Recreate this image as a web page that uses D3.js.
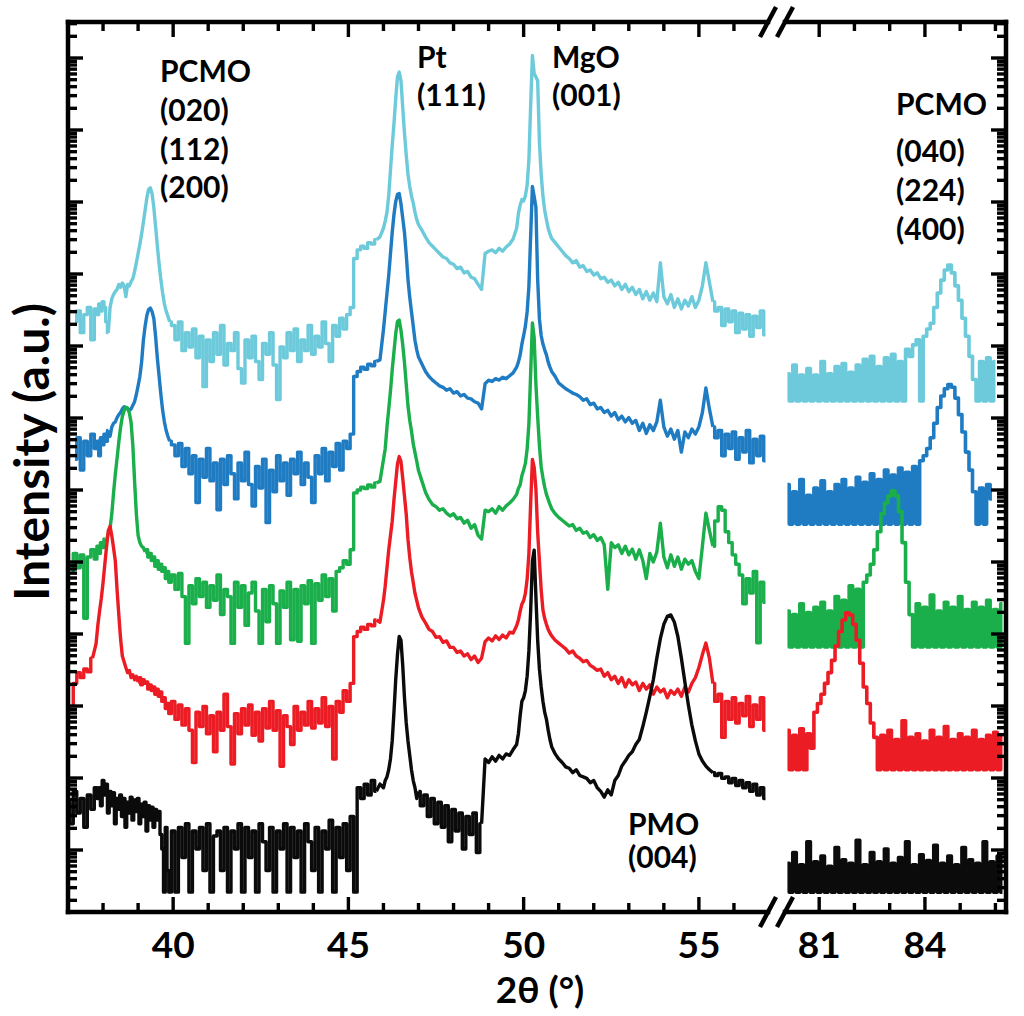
<!DOCTYPE html>
<html><head><meta charset="utf-8">
<script src="https://cdn.jsdelivr.net/npm/d3@7"></script>
<style>
body{margin:0;background:#fff}
svg{display:block}
text{font-family:Lato,'Open Sans',sans-serif;font-weight:700;fill:#000}
</style></head>
<body><svg id="chart" width="1024" height="1016"></svg>
<script>
// ---------- DATA ----------
// 2θ sampling of the left (37–57°) and right (80–86.3°) panels
const thetaLeft = [37.0,37.1,37.2,37.3,37.4,37.5,37.6,37.7,37.8,
37.85,37.9,37.95,38.0,38.05,38.1,38.15,38.2,38.25,38.3,38.35,38.4,38.45,38.5,38.55,38.6,38.65,38.7,38.75,38.8,38.85,38.9,38.95,39.0,39.05,39.1,39.15,39.2,39.25,39.3,39.35,39.4,39.45,39.5,39.55,39.6,39.65,39.7,39.75,39.8,39.85,39.9,
40.0,40.1,40.2,40.3,40.4,40.5,40.6,40.7,40.8,40.9,41.0,41.1,41.2,41.3,41.4,41.5,41.6,41.7,41.8,41.9,42.0,42.1,42.2,42.3,42.4,42.5,42.6,42.7,42.8,42.9,43.0,43.1,43.2,43.3,43.4,43.5,43.6,43.7,43.8,43.9,44.0,44.1,44.2,44.3,44.4,44.5,44.6,44.7,44.8,44.9,45.0,45.1,45.2,45.3,45.4,45.5,45.6,45.7,45.8,45.9,
46.0,46.05,46.1,46.15,46.2,46.25,46.3,46.35,46.4,46.45,46.5,46.55,46.6,46.65,46.7,46.75,46.8,46.85,46.9,46.95,47.0,
47.1,47.2,47.3,47.4,47.5,47.6,47.7,47.8,47.9,48.0,48.1,48.2,48.3,48.4,48.5,48.6,48.7,48.8,48.9,49.0,49.1,49.2,49.3,49.4,49.5,49.6,49.7,49.8,
49.85,49.9,49.95,50.0,50.05,50.1,50.15,50.2,50.25,50.3,50.35,50.4,50.45,50.5,50.55,50.6,50.65,50.7,50.75,50.8,
50.9,51.0,51.1,51.2,51.3,51.4,51.5,51.6,51.7,51.8,51.9,52.0,52.1,52.2,52.3,52.4,52.5,52.6,52.7,52.8,52.9,53.0,53.1,53.2,53.3,53.4,53.5,53.6,53.7,53.8,53.9,54.0,54.1,54.2,54.3,54.4,54.5,54.6,54.7,54.8,54.9,55.0,55.1,55.2,55.3,55.4,55.5,55.6,55.7,55.8,55.9,56.0,56.1,56.2,56.3,56.4,56.5,56.6,56.7,56.8,56.9];

const thetaRight = [80.1,80.2,80.3,80.4,80.5,80.6,80.7,80.8,80.9,81.0,81.1,81.2,81.3,81.4,81.5,81.6,81.7,81.8,81.9,82.0,82.1,82.2,82.3,82.4,82.5,82.6,82.7,82.8,82.9,83.0,83.1,83.2,83.3,83.4,83.5,83.6,83.7,83.8,83.9,84.0,84.1,84.2,84.3,84.4,84.5,84.6,84.7,84.8,84.9,85.0,85.1,85.2,85.3,85.4,85.5,85.6,85.7,85.8,85.9,86.0,86.1,86.2];

// log10(counts) of each pattern
const logBlackLeft = [1.25,0.95,1.40,1.10,1.30,0.90,1.35,1.15,1.45,
1.30,1.45,1.20,1.55,1.35,1.50,1.10,1.40,1.20,1.38,0.95,1.30,1.15,1.35,1.05,1.30,0.90,1.25,1.10,1.32,1.00,1.28,1.12,1.30,0.95,1.22,1.05,1.25,0.85,1.20,1.00,1.18,0.90,1.15,1.00,1.12,0.80,0.60,0.00,0.90,0.30,0.00,
0.85,0.00,0.90,0.48,0.95,0.00,0.85,0.60,0.90,0.30,0.95,0.00,0.78,0.85,0.30,0.90,0.00,0.85,0.60,0.95,0.00,0.90,0.48,0.85,0.00,0.95,0.70,0.30,0.90,0.00,0.85,0.60,0.95,0.00,0.90,0.48,0.85,0.00,0.95,0.70,0.30,0.90,0.00,0.85,0.60,1.00,0.00,0.90,0.48,0.95,0.30,1.05,0.00,1.45,1.30,1.50,1.35,1.55,1.40,1.50,
1.45,1.55,1.60,1.70,1.85,2.10,2.50,2.95,3.30,3.55,3.50,3.15,2.70,2.35,2.10,1.90,1.70,1.55,1.45,1.30,1.40,
1.20,1.35,1.05,1.30,0.95,1.25,0.90,1.20,0.70,1.15,0.85,1.10,0.60,1.05,0.80,1.10,0.55,0.95,1.85,1.80,1.88,1.82,1.90,1.85,1.92,1.90,1.98,2.05,
2.20,2.45,2.65,2.70,2.80,3.00,3.35,3.90,4.60,4.75,4.10,3.50,3.10,2.85,2.65,2.50,2.40,2.25,2.12,2.02,
1.92,1.85,1.80,1.74,1.72,1.66,1.70,1.62,1.60,1.58,1.52,1.55,1.45,1.40,1.32,1.42,1.35,1.55,1.62,1.75,1.82,1.90,1.95,2.05,2.12,2.30,2.50,2.72,2.95,3.25,3.52,3.72,3.83,3.85,3.75,3.55,3.25,2.92,2.60,2.32,2.10,1.92,1.82,1.75,1.70,1.66,1.62,1.65,1.58,1.60,1.52,1.58,1.48,1.55,1.45,1.52,1.40,1.50,1.35,1.45,1.30];

const logRedLeft = [null,0.90,1.20,1.35,1.28,1.40,1.36,1.55,1.75,
2.00,2.20,2.38,2.60,2.85,3.10,3.32,3.38,3.25,3.08,2.90,2.50,2.15,1.82,1.58,1.50,1.42,1.35,1.38,1.28,1.32,1.25,1.30,1.22,1.28,1.18,1.25,1.20,1.22,1.12,1.18,1.10,1.15,1.05,1.12,1.02,1.08,0.95,1.00,0.85,0.92,0.78,
0.95,0.70,0.90,0.62,0.85,0.55,0.10,0.80,0.60,0.88,0.50,0.75,0.25,0.80,0.55,1.05,0.60,0.08,0.78,0.50,0.85,0.62,0.90,0.48,0.80,0.40,0.85,0.58,0.95,0.55,0.82,0.05,0.75,0.60,0.35,0.88,0.55,0.80,0.62,0.95,0.58,0.85,0.65,1.00,0.60,0.88,0.15,0.95,0.80,1.10,0.95,1.20,1.85,1.92,1.98,1.95,2.02,2.00,2.08,2.05,
2.35,2.55,2.80,3.05,3.25,3.45,3.75,4.00,4.25,4.35,4.28,4.05,3.80,3.55,3.20,2.95,2.75,2.60,2.45,2.35,2.25,
2.12,2.04,1.95,1.92,1.84,1.85,1.77,1.79,1.70,1.70,1.63,1.65,1.58,1.61,1.53,1.58,1.49,1.55,1.78,1.83,1.79,1.86,1.81,1.87,1.83,1.91,1.90,2.00,
2.08,2.20,2.30,2.35,2.45,2.65,3.00,3.70,4.31,4.20,3.90,3.30,2.90,2.50,2.22,2.10,2.02,1.95,1.90,1.86,
1.80,1.76,1.72,1.68,1.62,1.65,1.58,1.55,1.50,1.52,1.45,1.42,1.38,1.40,1.30,1.35,1.25,1.30,1.20,1.28,1.15,1.25,1.18,1.22,1.10,1.20,1.12,1.18,1.05,1.15,1.08,1.12,1.00,1.10,1.05,1.12,1.02,1.15,1.08,1.20,1.28,1.42,1.60,1.76,1.55,1.20,0.95,1.05,0.45,0.95,0.70,1.00,0.65,0.92,0.75,1.02,0.60,0.90,0.70,1.00,0.55];

const logGreenLeft = [null,1.05,1.30,1.10,1.28,0.40,1.25,1.35,1.22,
1.40,1.30,1.45,1.38,1.50,1.48,1.58,1.65,1.85,2.14,2.40,2.62,2.85,3.05,3.20,3.28,3.33,3.32,3.25,3.12,2.80,2.30,1.85,1.55,1.45,1.40,1.38,1.32,1.35,1.25,1.30,1.20,1.25,1.12,1.20,1.08,1.15,1.05,1.10,0.95,1.05,0.90,
1.00,0.80,1.02,0.70,0.05,0.85,0.60,0.95,0.70,0.90,0.55,0.85,0.65,1.00,0.45,0.80,0.70,0.05,0.90,0.55,0.85,0.30,0.75,0.90,0.50,0.05,0.80,0.35,0.85,0.60,0.05,0.78,0.55,0.90,0.10,0.80,0.08,0.85,0.60,0.92,0.05,0.88,0.65,1.00,0.70,0.95,0.50,1.05,1.10,1.20,1.15,1.35,2.14,2.18,2.22,2.20,2.25,2.22,2.28,2.30,
2.60,2.75,3.05,3.30,3.55,3.85,4.10,4.35,4.52,4.54,4.40,4.20,3.95,3.65,3.35,3.15,3.00,2.82,2.70,2.58,2.45,
2.30,2.15,2.05,1.98,1.95,1.90,1.92,1.86,1.82,1.85,1.78,1.80,1.72,1.76,1.65,1.70,1.55,1.50,1.90,1.88,1.92,1.86,1.95,1.90,1.96,2.00,2.05,2.12,
2.20,2.25,2.38,2.46,2.55,2.75,3.10,3.80,4.50,4.30,3.65,3.20,2.80,2.50,2.35,2.22,2.12,2.05,1.98,1.92,
1.85,1.80,1.76,1.72,1.68,1.70,1.62,1.65,1.58,1.60,1.52,1.56,1.48,1.52,1.42,0.80,1.45,1.38,1.42,1.30,1.40,1.28,1.36,1.22,1.35,1.20,0.95,1.30,1.18,1.32,1.72,1.25,1.10,1.28,1.12,1.25,1.08,1.22,1.15,1.20,1.05,0.95,1.40,1.86,1.62,1.40,1.75,1.95,1.90,1.60,1.45,1.28,1.15,1.00,0.60,0.95,0.75,1.05,0.06,0.90,0.62];

const logBlueLeft = [null,null,0.90,1.20,0.75,1.15,0.95,1.25,1.05,
1.15,0.95,1.20,1.10,1.25,1.15,1.30,1.22,1.35,1.40,1.42,1.48,1.52,1.55,1.60,1.63,1.62,1.60,1.58,1.60,1.65,1.70,1.80,1.92,2.05,2.25,2.55,2.75,2.90,2.98,3.00,2.95,2.85,2.60,2.30,2.05,1.80,1.58,1.42,1.30,1.22,1.15,
1.10,0.95,1.12,0.80,1.05,0.70,0.95,0.30,0.90,0.65,1.05,0.60,0.85,0.20,0.90,0.55,0.95,0.70,0.35,0.85,0.60,1.00,0.55,0.25,0.80,0.50,0.90,0.02,0.75,0.45,0.95,0.60,0.85,0.40,0.90,0.70,1.00,0.55,0.85,0.65,0.30,0.95,0.70,1.05,0.60,1.00,0.80,1.12,0.75,1.15,1.05,1.25,2.05,2.12,2.18,2.15,2.22,2.20,2.26,2.28,
2.70,2.95,3.20,3.45,3.75,4.05,4.30,4.48,4.58,4.59,4.45,4.25,4.05,3.75,3.40,3.15,2.95,2.75,2.55,2.42,2.32,
2.22,2.12,2.05,2.00,1.96,1.92,1.90,1.86,1.88,1.82,1.84,1.78,1.80,1.75,1.74,1.70,1.68,1.60,1.95,2.00,1.98,2.02,2.00,2.04,2.02,2.06,2.10,2.18,
2.25,2.35,2.50,2.62,2.75,2.95,3.30,4.00,4.69,4.55,4.40,3.40,2.85,2.62,2.50,2.42,2.35,2.25,2.18,2.12,
2.05,1.96,1.92,1.88,1.85,1.82,1.80,1.77,1.72,1.74,1.66,1.68,1.60,1.62,1.55,1.58,1.50,1.55,1.45,1.50,1.42,1.48,1.40,1.44,1.30,1.40,1.26,1.38,1.30,1.42,1.72,1.35,1.22,1.32,1.18,1.30,1.00,1.28,1.20,1.32,1.25,1.35,1.55,1.89,1.60,1.35,1.20,1.30,0.95,1.25,1.05,1.28,0.90,1.20,1.00,1.30,0.85,1.18,0.95,1.22,0.88];

const logCyanLeft = [null,null,1.10,1.25,0.95,1.20,1.30,0.85,1.28,
1.20,1.35,1.25,1.38,1.30,1.10,0.95,1.30,1.42,1.48,1.52,1.55,1.62,1.58,1.64,1.60,1.45,1.62,1.60,1.66,1.70,1.80,1.92,2.05,2.18,2.32,2.48,2.65,2.82,2.94,2.96,2.88,2.68,2.42,2.15,1.90,1.68,1.50,1.35,1.25,1.18,1.10,
1.05,0.85,1.10,0.70,0.95,0.75,1.00,0.60,0.90,0.20,0.85,0.55,0.95,0.65,1.05,0.50,0.80,0.70,0.95,0.45,0.25,0.85,0.60,0.90,0.55,0.30,0.80,0.65,0.95,0.50,0.02,0.75,0.60,0.95,0.70,1.00,0.55,0.85,0.70,1.05,0.65,0.90,0.75,1.10,0.80,0.55,1.05,0.90,1.15,1.00,1.20,1.30,1.98,2.10,2.15,2.12,2.20,2.18,2.24,2.28,
2.40,2.50,2.62,2.85,3.20,3.55,3.85,4.20,4.50,4.57,4.45,4.08,3.72,3.42,3.15,2.98,2.85,2.75,2.62,2.52,2.45,
2.37,2.28,2.20,2.15,2.10,2.05,2.00,1.98,1.92,1.90,1.84,1.86,1.78,1.80,1.72,1.70,1.62,1.55,2.05,2.08,2.10,2.06,2.12,2.08,2.14,2.18,2.25,2.40,
2.60,2.72,2.80,2.78,2.85,3.00,3.35,4.10,4.80,4.55,4.50,4.45,3.60,3.15,2.85,2.65,2.52,2.40,2.32,2.26,
2.20,2.14,2.08,2.02,1.98,1.92,1.95,1.86,1.88,1.80,1.82,1.75,1.78,1.70,1.72,1.65,1.68,1.60,1.65,1.55,1.62,1.52,1.58,1.48,1.55,1.42,1.52,1.40,1.50,1.38,1.92,1.45,1.35,1.48,1.30,1.42,1.28,1.40,1.32,1.45,1.30,1.40,1.60,1.92,1.65,1.38,1.25,1.30,1.05,1.28,1.10,1.25,0.95,1.22,1.00,1.20,0.90,1.18,1.02,1.25,0.92];

const logBlackRight = [0.40,0,0.55,0,0.38,0,0.70,0,0.42,0,0.50,0,0.36,0,0.62,0,0.45,0,0.40,0,0.72,0,0.38,0,0.55,0,0.42,0,0.60,0,0.40,0,0.48,0,0.70,0,0.38,0,0.52,0,0.44,0,0.65,0,0.40,0,0.50,0,0.38,0,0.62,0,0.45,0,0.40,0,0.70,0,0.42,0,0.50,0];
const logRedRight = [0.55,0,0.48,0,0.57,0,0.50,0.30,0.80,0.92,1.05,1.20,1.35,1.52,1.72,1.92,2.08,2.18,2.15,2.02,1.80,1.48,1.15,0.92,0.65,0.45,0,0.48,0,0.55,0,0.42,0,0.68,0,0.45,0,0.50,0,0.40,0,0.55,0,0.45,0,0.60,0,0.42,0,0.50,0,0.45,0,0.55,0,0.42,0,0.48,0,0.52,0,0.45];
const logGreenRight = [0.50,0,0.45,0,0.60,0,0.48,0,0.55,0,0.62,0,0.50,0,0.70,0,0.65,0,0.85,0,0.80,0,0.90,1.00,1.15,1.35,1.60,1.85,2.00,2.10,2.17,2.10,1.88,1.45,0.90,0.45,0,0.60,0,0.55,0,0.72,0,0.50,0,0.62,0,0.55,0,0.70,0,0.52,0,0.62,0,0.55,0,0.65,0,0.52,0,0.60];
const logBlueRight = [0.55,0,0.45,0,0.62,0,0.40,0,0.50,0,0.60,0,0.45,0,0.55,0,0.62,0,0.50,0,0.65,0,0.58,0,0.70,0,0.62,0,0.75,0,0.68,0,0.78,0,0.72,0,0.80,0,0.88,0.95,1.05,1.20,1.40,1.62,1.78,1.88,1.94,1.90,1.75,1.52,1.28,1.00,0.75,0.45,0,0.50,0,0.55,0.35,null,null,null];
const logCyanRight = [0.38,0,0.50,0,0.36,0,0.45,0,0.36,0,0.55,0,0.38,0,0.48,0,0.52,0,0.40,0,0.50,0,0.58,0,0.62,0,0.48,0,0.60,0,0.65,0,0.55,0,0.72,0.62,0.78,0.85,0,0.90,1.00,1.08,1.30,1.50,1.68,1.82,1.89,1.78,1.60,1.40,1.15,0.90,0.62,0.30,0,0.55,0,0.60,0,0.55,null,null];

// vertical stacking factors (multiplicative offsets on the log axis)
const seriesNames = ["black", "red", "green", "blue", "cyan"];
const seriesColors = ["#0b0b0b", "#ec1c24", "#1aaf4b", "#1f7cc2", "#6ccadb"];
const stackFactor = [0.26, 13, 660, 33600, 1.72e6];
const leftSeries = [logBlackLeft, logRedLeft, logGreenLeft, logBlueLeft, logCyanLeft];
const rightSeries = [logBlackRight, logRedRight, logGreenRight, logBlueRight, logCyanRight];

// 2θ windows where each pattern is a smooth peak/tail (plain line); elsewhere dense noise (steps)
const smoothWindows = [
  [[45.85, 47.0], [48.85, 55.45]],
  [[37.75, 39.0], [45.85, 55.45]],
  [[38.1, 39.2], [45.85, 55.45]],
  [[38.2, 39.9], [45.85, 55.45]],
  [[38.2, 39.9], [45.85, 55.45]]
];

const leftTicks = [38,39,40,41,42,43,44,45,46,47,48,49,50,51,52,53,54,55,56];
const leftLabels = [40,45,50,55];
const rightTicks = [81,82,83,84,85,86];
const rightLabels = [81,84];

const annotations = [
  {lines:["PCMO","(020)","(112)","(200)"], x:160, y:[82,121,160,198]},
  {lines:["Pt","(111)"], x:417, y:[68,106]},
  {lines:["MgO","(001)"], x:552, y:[68,106]},
  {lines:["PCMO","(040)","(224)","(400)"], x:896, y:[115,162,201,240]},
  {lines:["PMO","(004)"], x:628, y:[835,868]}
];

// ---------- LAYOUT ----------
const L = 68, R = 1006, T = 22, B = 912;
const svg = d3.select("#chart");

const xLeft = d3.scaleLinear().domain([37, 57.2]).range([68, 776]);
const xRight = d3.scaleLinear().domain([80.03, 86.3]).range([785, 1006]);
const y = d3.scaleLog().domain([Math.pow(10, -0.861), Math.pow(10, 11.5)]).range([B, T]);

svg.append("defs").append("clipPath").attr("id", "plotclip")
  .append("rect").attr("x", L).attr("y", T).attr("width", R - L).attr("height", B - T);

const gPlot = svg.append("g").attr("clip-path", "url(#plotclip)");

function splitRuns(pts, windows) {
  const out = []; let cur = null;
  pts.forEach(p => {
    const sm = windows.some(w => p[0] >= w[0] && p[0] <= w[1]);
    if (!cur || cur.smooth !== sm) {
      const prev = cur ? cur.pts[cur.pts.length - 1] : null;
      cur = {smooth: sm, pts: prev ? [prev] : []};
      out.push(cur);
    }
    cur.pts.push(p);
  });
  return out;
}

function drawPanel(thetas, seriesList, xs, windowsList, sw) {
  for (let k = seriesList.length - 1; k >= 0; k--) {
    const vals = seriesList[k];
    const pts = thetas.map((t, i) => [t, vals[i]]);
    const g = gPlot.append("g").attr("stroke", seriesColors[k]).attr("fill", "none")
      .attr("stroke-width", sw).attr("stroke-linejoin", "round");
    splitRuns(pts, windowsList ? windowsList[k] : []).forEach(run => {
      const line = d3.line()
        .defined(d => d[1] !== null && d[1] !== undefined)
        .x(d => xs(d[0]))
        .y(d => y(Math.pow(10, d[1]) * stackFactor[k]))
        .curve(run.smooth ? d3.curveLinear : d3.curveStep);
      g.append("path").datum(run.pts).attr("d", line);
    });
  }
}
drawPanel(thetaLeft, leftSeries, xLeft, smoothWindows, 3.4);
drawPanel(thetaRight, rightSeries, xRight, null, 3.6);

// ---------- AXES ----------
const gAx = svg.append("g").attr("stroke", "#000").attr("fill", "none");
const TW = 3.4, MAJ = 15, MIN = 9;

// y log ticks on both sides
y.ticks(30).forEach(v => {
  const yy = y(v);
  if (yy < T + 1 || yy > B - 1) return;
  const major = Math.abs(Math.log10(v) - Math.round(Math.log10(v))) < 1e-6;
  const len = major ? MAJ : MIN;
  gAx.append("line").attr("x1", L).attr("x2", L + len).attr("y1", yy).attr("y2", yy).attr("stroke-width", TW);
  gAx.append("line").attr("x1", R).attr("x2", R - len).attr("y1", yy).attr("y2", yy).attr("stroke-width", TW);
});

function xTicks(ticks, labels, xs) {
  ticks.forEach(v => {
    const xx = xs(v);
    const len = labels.includes(v) ? MAJ : MIN;
    gAx.append("line").attr("x1", xx).attr("x2", xx).attr("y1", B).attr("y2", B - len).attr("stroke-width", TW);
    gAx.append("line").attr("x1", xx).attr("x2", xx).attr("y1", T).attr("y2", T + len).attr("stroke-width", TW);
  });
  labels.forEach(v => {
    svg.append("text").attr("x", xs(v)).attr("y", 958).attr("text-anchor", "middle")
      .attr("font-size", 37).text(v);
  });
}
xTicks(leftTicks, leftLabels, xLeft);
xTicks(rightTicks, rightLabels, xRight);

// frame with axis break
const AW = 4.5;
gAx.append("line").attr("x1", L).attr("x2", L).attr("y1", T).attr("y2", B).attr("stroke-width", AW).attr("stroke-linecap", "square");
gAx.append("line").attr("x1", R).attr("x2", R).attr("y1", T).attr("y2", B).attr("stroke-width", AW).attr("stroke-linecap", "square");
[T, B].forEach(yy => {
  gAx.append("line").attr("x1", L).attr("x2", 768).attr("y1", yy).attr("y2", yy).attr("stroke-width", AW).attr("stroke-linecap", "square");
  gAx.append("line").attr("x1", 785).attr("x2", R).attr("y1", yy).attr("y2", yy).attr("stroke-width", AW).attr("stroke-linecap", "square");
  [768, 785].forEach(cx => {
    gAx.append("line").attr("x1", cx - 8).attr("y1", yy + 15).attr("x2", cx + 8).attr("y2", yy - 15)
      .attr("stroke-width", 4.5);
  });
});

// ---------- TEXT ----------
annotations.forEach(a => {
  a.lines.forEach((s, i) => {
    svg.append("text").attr("x", a.x).attr("y", a.y[i]).attr("font-size", 30).text(s);
  });
});
svg.append("text").attr("x", 540).attr("y", 1003).attr("text-anchor", "middle")
  .attr("font-size", 37).text("2θ (°)");
svg.append("text").attr("transform", "translate(49,452) rotate(-90)").attr("text-anchor", "middle")
  .attr("font-size", 48).text("Intensity (a.u.)");
</script>
</body></html>
